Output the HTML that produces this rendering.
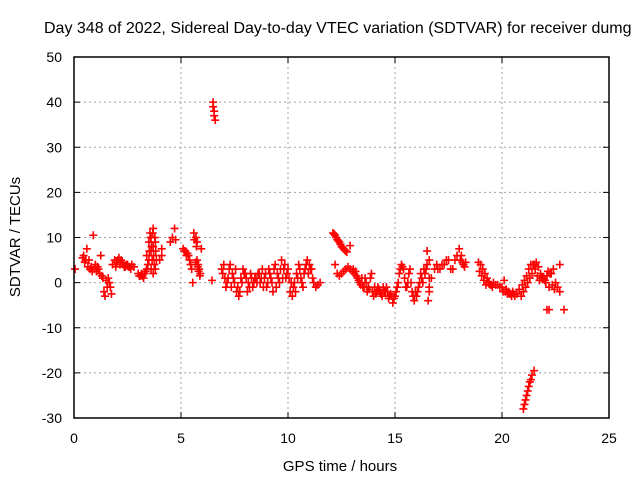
<!DOCTYPE html>
<html><head><meta charset="utf-8"><style>
html,body{margin:0;padding:0;background:#fff;}
svg{display:block;font-family:"Liberation Sans",sans-serif;}
</style></head><body>
<svg id="chart" width="640" height="480">
<text x="44" y="33" font-size="16">Day 348 of 2022, Sidereal Day-to-day VTEC variation (SDTVAR) for receiver dumg</text>
<text transform="translate(20,237) rotate(-90)" text-anchor="middle" font-size="15">SDTVAR / TECUs</text>
<text x="340" y="471" text-anchor="middle" font-size="15">GPS time / hours</text>
<g id="grid"></g>
<g id="ticks"></g>
<g id="marks"></g>
<rect x="74" y="57" width="535" height="361" fill="none" stroke="#000" stroke-width="1.5"/>
</svg>
<script>
const xTicks=[0,5,10,15,20,25];
const yTicks=[-30,-20,-10,0,10,20,30,40,50];
const times=[0.05,0.4,0.5,0.6,0.65,0.75,0.85,0.9,1.0,1.05,1.1,1.2,1.25,1.35,1.4,1.45,1.5,1.6,1.7,1.8,1.9,2.0,2.1,2.2,
2.3,2.4,2.5,2.6,2.7,2.8,
3.0,3.1,3.2,3.3,3.4,3.5,3.5,3.55,3.6,3.6,3.65,3.7,3.7,3.75,3.8,3.8,3.4,
4.0,4.1,4.1,4.5,4.6,4.7,4.75,
5.1,5.2,5.3,5.4,5.5,5.55,5.6,5.7,5.75,5.75,5.8,5.85,5.9,5.95,
6.45,6.5,6.5,6.55,6.55,6.6,
6.9,7.0,7.1,7.2,7.3,7.4,7.5,7.6,7.7,7.8,7.9,8.0,8.1,8.2,8.3,8.4,8.5,8.6,8.7,8.8,8.9,9.0,9.1,9.2,9.3,9.4,9.5,9.6,9.7,9.8,9.9,10.0,10.1,10.2,10.3,10.4,10.5,10.6,10.7,10.8,10.9,11.0,11.1,11.2,11.3,11.4,11.5,
12.1,12.2,12.3,12.4,12.5,12.6,12.7,12.9,
12.2,12.3,12.4,12.5,12.6,12.7,12.8,12.9,13.0,13.1,13.2,13.3,13.4,13.5,13.6,13.7,13.8,13.9,14.0,14.1,14.2,14.3,14.4,14.5,14.6,14.7,14.8,14.9,15.0,15.1,15.2,15.3,15.4,15.5,15.6,15.7,15.8,15.9,16.0,16.1,16.2,16.3,16.4,16.5,16.5,16.6,16.7,17.0,17.2,17.4,17.6,17.8,18.0,18.1,18.2,18.3,
18.9,19.0,19.1,19.2,19.3,19.4,19.5,19.6,19.8,20.0,20.1,20.2,20.3,20.4,20.5,20.6,
20.9,21.0,21.1,21.2,21.3,21.4,21.5,21.6,21.7,21.8,21.9,22.0,22.1,22.2,22.3,22.4,22.5,22.6,22.7,22.7,22.1,22.2,22.9,
21.0,21.05,21.1,21.15,21.2,21.25,21.3,21.35,21.4,21.5,
0.45,0.55,0.7,0.8,0.95,1.15,1.3,1.55,1.65,1.75,1.95,2.05,2.15,2.25,2.35,2.45,2.55,2.65,
3.05,3.15,3.25,3.35,3.45,3.52,3.58,3.62,3.68,3.72,3.78,3.82,3.85,3.6,3.7,
5.15,5.25,5.35,5.45,5.62,5.68,5.72,5.78,5.82,5.88,
6.95,7.05,7.15,7.25,7.35,7.45,7.55,7.65,7.75,7.85,7.95,8.05,8.15,8.25,8.35,8.45,8.55,8.65,8.75,8.85,8.95,9.05,9.15,9.25,9.35,9.45,9.55,9.65,9.75,9.85,9.95,10.05,10.15,10.25,10.35,10.45,10.55,10.65,10.75,10.85,10.95,11.05,11.15,
12.15,12.25,12.35,12.45,12.55,12.65,12.75,
13.05,13.15,13.25,13.35,13.45,13.55,13.65,13.75,13.85,13.95,14.05,14.15,14.25,14.35,14.45,14.55,14.65,14.75,14.85,14.95,15.05,15.15,15.25,15.35,15.45,15.55,15.65,15.75,15.85,15.95,16.05,16.15,16.25,16.35,16.45,16.55,16.6,16.6,16.6,16.85,16.95,17.1,17.3,17.5,17.7,17.9,18.05,18.15,18.25,
18.95,19.05,19.15,19.25,19.35,19.45,19.55,19.7,19.9,20.05,20.15,20.25,20.35,20.45,20.55,20.7,20.8,
20.95,21.05,21.15,21.25,21.35,21.45,21.55,21.65,21.75,21.85,21.95,22.05,22.15,22.25,22.35,22.45,22.55,22.65];
const values=[3,5.5,4.5,7.5,3.5,3,2.5,10.5,4,2.5,3.5,2,6,1,-2,-3,0.5,1,-1,4,5,4.5,5.5,5,
4,3.5,4,3.5,4,3.5,
2,1.5,1.5,2,3,5,9,11,7,10,5,8,12,4,9,3,6,
5,7.5,6,9,10,12,9.5,
7.5,7,6.5,5,3,0,11,10,9,5,4,3,2,7.5,
0.5,40,39,38,37,36,
3,4,-1,1,4,2,0,-2,-3,1,3,2,-2,-1,1,0,1,2,0,3,1,-1,3,1,-2,4,2,0,5,3,1,3,-2,-3,0,2,4,1,-1,3,5,4,3,0,-1,-0.5,0,
11,10.5,9.5,9,8,7.5,7,8.2,
4,2,1.5,2,2.5,3,3.5,3,2.5,2,1.5,0.5,-0.5,-1,1,-2,-1.5,2,-3,-2.5,-1,-2,-3,-2,-1,-3.5,-2.5,-4.5,-3,-1,2,4,3,-1,0,3,-2,-4,-3,-1,2,0,2,4,7,-1,1,3,4,5,3,5,7.5,6,4,4.5,
4.5,4,3,2,1,0,-0.5,0,-0.5,-1,0.5,-1.5,-2,-2.5,-2,-3,
-3,-2,-1,0,1,2,4,4.5,3.5,2,1,0.5,1.5,-1,2,3,0,-1,-2,4,-6,-6,-6,
-28,-27,-26,-25,-24,-23,-22,-21.5,-20.5,-19.5,
6,5,5,3.5,3,3,1.5,-1,0,-2.5,3.5,5,4,4.5,3.5,4,3.5,3,
1.5,2,1,2.5,4,7,10,8,11,6,10,7,5,3,2,
7,6,6,4,9.5,4.5,8,3.5,2.5,1.5,
2,1,0,3,-1,1,3,-1,-2,0,2,1,0,2,-1,1,0,2,1,-1,2,0,2,0,3,-1,1,3,1,4,2,1,0,-1,-2,1,3,0,2,4,2,3,1,
10.8,10,9.3,8.5,7.8,7.2,6.8,
3,2.5,1,0,1,-1,0,-1,1,-2,-1,-2,-1.5,-2.5,-1,-2,-2,-3,-3,-3.5,-2,0,3,3.5,1,-1,2,0,-3,-2,-2,0,1,3,3,-4,-2,1,5,3,4,3,4,5,3,6,5,
4.5,3.5,2.5,1.5,0.5,-0.5,0,-0.5,-1,-0.5,-1,-2,-2,-2.5,-2.5,-3,-2.5,
-2.5,-1.5,-0.5,0.5,1.5,3,4,4,3,1.5,0.5,1,1,0,2.5,2,-0.5,-1.5];
const X0=74,X1=609,Y0=418,Y1=57,XMIN=0,XMAX=25,YMIN=-30,YMAX=50;
function xs(t){return X0+(t-XMIN)/(XMAX-XMIN)*(X1-X0);}
function ys(v){return Y0-(v-YMIN)/(YMAX-YMIN)*(Y0-Y1);}
const NS="http://www.w3.org/2000/svg";
const grid=document.getElementById('grid'),ticks=document.getElementById('ticks'),marks=document.getElementById('marks');
function mk(tag,attrs,parent){const e=document.createElementNS(NS,tag);for(const k in attrs)e.setAttribute(k,attrs[k]);parent.appendChild(e);return e;}
xTicks.forEach(t=>{const x=xs(t);
 if(t>XMIN&&t<XMAX){const g=mk('line',{x1:x,x2:x,y1:Y1,y2:Y0,stroke:'#a0a0a0','stroke-dasharray':'2,3'},grid);
 
 }
 mk('line',{x1:x,x2:x,y1:Y0,y2:Y0-6,stroke:'#000'},ticks);
 mk('line',{x1:x,x2:x,y1:Y1,y2:Y1+6,stroke:'#000'},ticks);
 const l=mk('text',{x:x,y:443,'text-anchor':'middle','font-size':'14'},ticks);l.textContent=t;
 
 });
yTicks.forEach(v=>{const y=ys(v);
 if(v>YMIN&&v<YMAX){const g=mk('line',{x1:X0,x2:X1,y1:y,y2:y,stroke:'#a0a0a0','stroke-dasharray':'2,3'},grid);
 
 }
 mk('line',{x1:X0,x2:X0+6,y1:y,y2:y,stroke:'#000'},ticks);
 mk('line',{x1:X1,x2:X1-6,y1:y,y2:y,stroke:'#000'},ticks);
 const l=mk('text',{x:62,y:y+5,'text-anchor':'end','font-size':'14'},ticks);l.textContent=v;
 
 });
for(let i=0;i<times.length;i++){const x=xs(times[i]),y=ys(values[i]);
 const p=mk('path',{d:`M${x-4},${y}h8M${x},${y-4}v8`,stroke:'#f00','stroke-width':'1.6',fill:'none'},marks);
 
 }
</script>
</body></html>
